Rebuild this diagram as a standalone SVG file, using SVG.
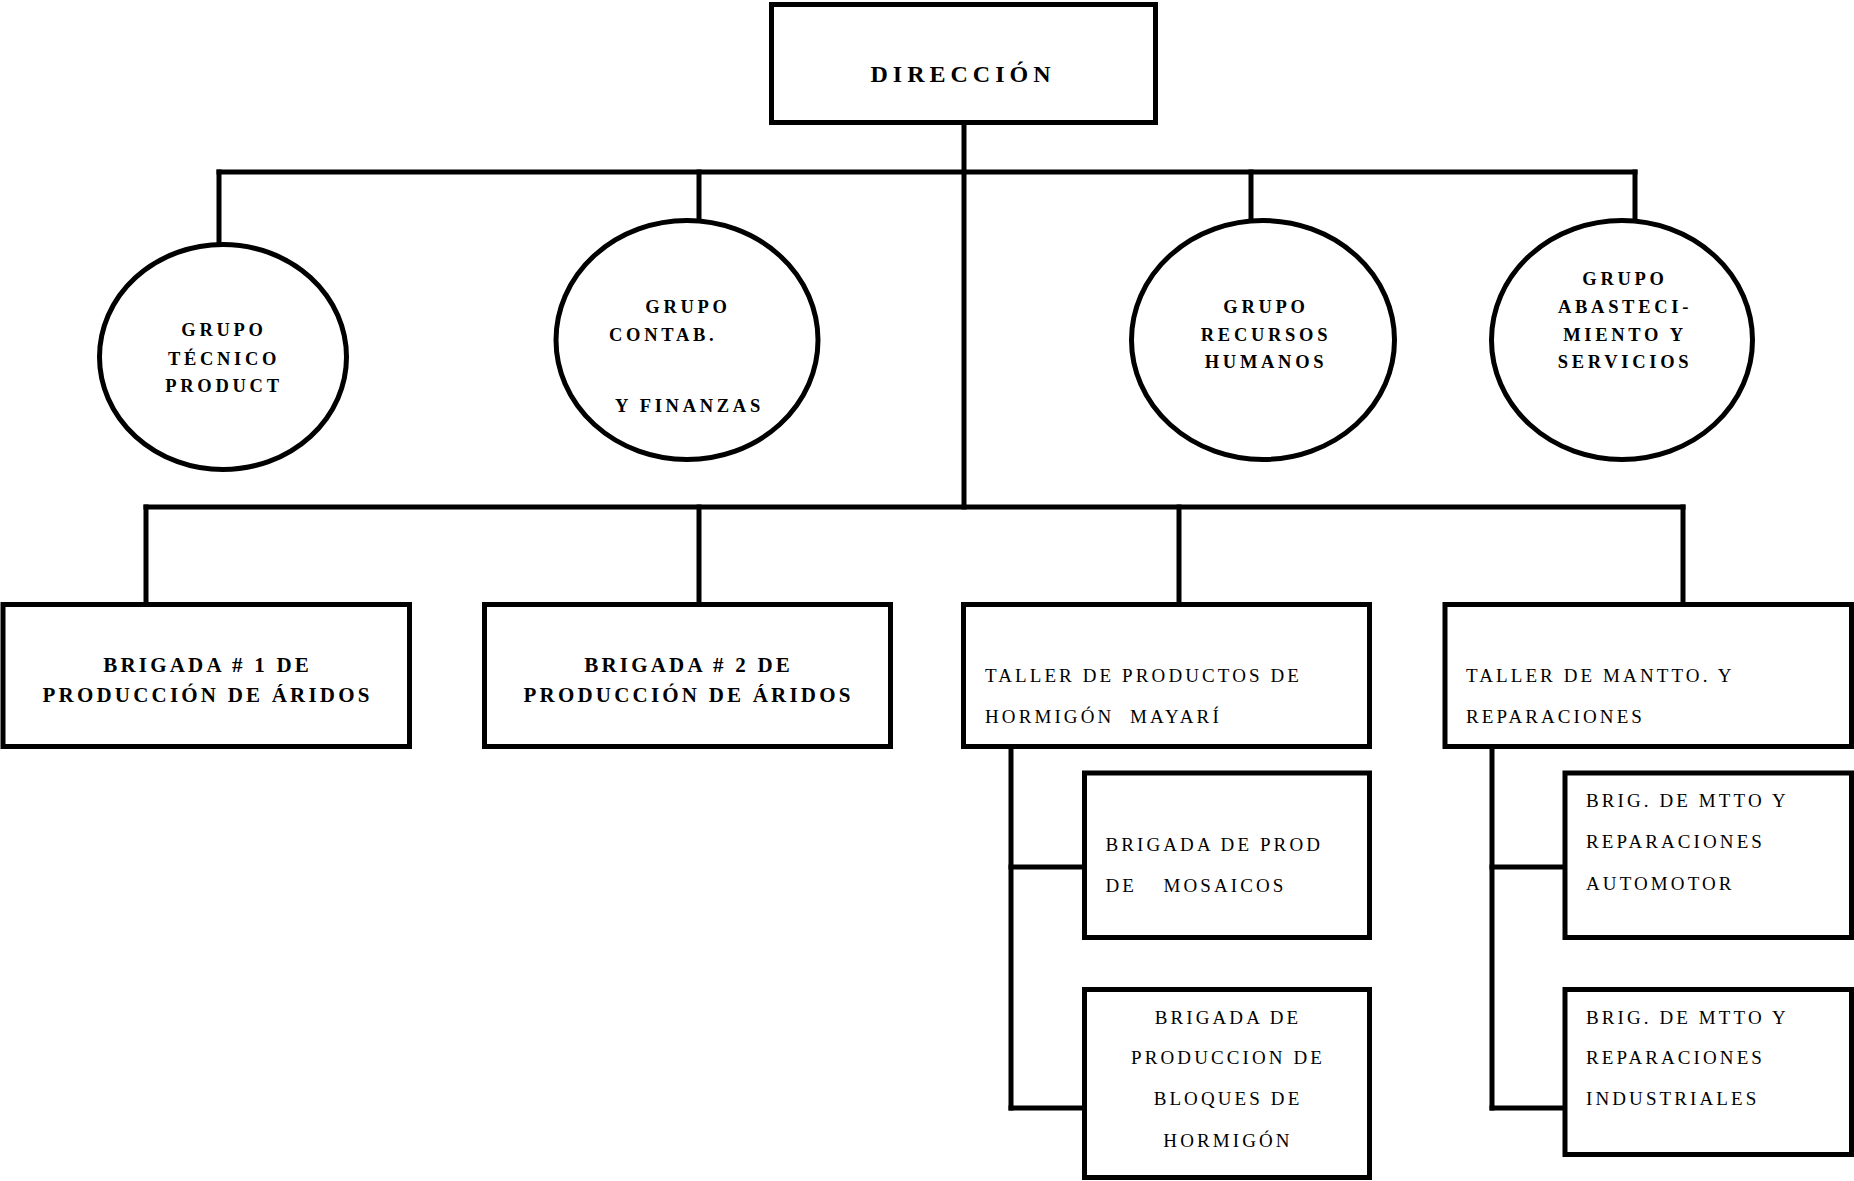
<svg xmlns="http://www.w3.org/2000/svg" width="1854" height="1181" viewBox="0 0 1854 1181">
<style>
.shape{fill:#fff;stroke:#000;stroke-width:5}
.conn line{stroke:#000;stroke-width:5;stroke-linecap:square}
.b{font-family:"Liberation Serif","Times New Roman",serif;font-weight:bold;fill:#000}
.r{font-family:"Liberation Serif","Times New Roman",serif;font-weight:normal;fill:#000;font-size:19px;letter-spacing:3.1px;white-space:pre}
.e{font-size:18.5px;letter-spacing:3.7px}
.bx{font-size:21px;letter-spacing:3.2px}
.m{text-anchor:middle}
</style>
<rect width="1854" height="1181" fill="#fff"/>
<g id="connectors" class="conn">
<line x1="964" y1="125" x2="964" y2="507"/>
<line x1="219" y1="172" x2="1635" y2="172"/>
<line x1="219" y1="172" x2="219" y2="243"/>
<line x1="699" y1="172" x2="699" y2="220"/>
<line x1="1251" y1="172" x2="1251" y2="220"/>
<line x1="1635" y1="172" x2="1635" y2="220"/>
<line x1="146" y1="507" x2="1683" y2="507"/>
<line x1="146" y1="507" x2="146" y2="602"/>
<line x1="699" y1="507" x2="699" y2="602"/>
<line x1="1179" y1="507" x2="1179" y2="602"/>
<line x1="1683" y1="507" x2="1683" y2="602"/>
<line x1="1011" y1="749" x2="1011" y2="1108"/>
<line x1="1011" y1="867" x2="1083" y2="867"/>
<line x1="1011" y1="1108" x2="1083" y2="1108"/>
<line x1="1492" y1="749" x2="1492" y2="1108"/>
<line x1="1492" y1="867" x2="1563" y2="867"/>
<line x1="1492" y1="1108" x2="1563" y2="1108"/>
</g>
<g id="direccion">
<rect class="shape" x="771.5" y="4.5" width="384" height="118"/>
<text class="b m" x="963" y="82" font-size="24" letter-spacing="5">DIRECCIÓN</text>
</g>
<g id="grupo-tecnico">
<ellipse class="shape" cx="223" cy="357" rx="123.5" ry="112.5"/>
<text class="b e m" x="224" y="336">GRUPO</text>
<text class="b e m" x="224" y="365">TÉCNICO</text>
<text class="b e m" x="224" y="392">PRODUCT</text>
</g>
<g id="grupo-contab">
<ellipse class="shape" cx="687" cy="340" rx="131" ry="119.5"/>
<text class="b e m" x="688" y="313">GRUPO</text>
<text class="b e" x="609" y="341">CONTAB.</text>
<text class="b e" x="615" y="412">Y FINANZAS</text>
</g>
<g id="grupo-rrhh">
<ellipse class="shape" cx="1263" cy="340" rx="131.5" ry="119.5"/>
<text class="b e m" x="1266" y="313">GRUPO</text>
<text class="b e m" x="1266" y="341">RECURSOS</text>
<text class="b e m" x="1266" y="368">HUMANOS</text>
</g>
<g id="grupo-abastecimiento">
<ellipse class="shape" cx="1622" cy="340" rx="130.5" ry="119.5"/>
<text class="b e m" x="1625" y="285">GRUPO</text>
<text class="b e m" x="1625" y="313">ABASTECI-</text>
<text class="b e m" x="1625" y="341">MIENTO Y</text>
<text class="b e m" x="1625" y="368">SERVICIOS</text>
</g>
<g id="brigada1">
<rect class="shape" x="3" y="604.5" width="406.5" height="142"/>
<text class="b bx m" x="207.6" y="672">BRIGADA # 1 DE</text>
<text class="b bx m" x="207.6" y="702">PRODUCCIÓN DE ÁRIDOS</text>
</g>
<g id="brigada2">
<rect class="shape" x="484.5" y="604.5" width="406" height="142"/>
<text class="b bx m" x="688.6" y="672">BRIGADA # 2 DE</text>
<text class="b bx m" x="688.6" y="702">PRODUCCIÓN DE ÁRIDOS</text>
</g>
<g id="taller-hormigon">
<rect class="shape" x="963.5" y="604.5" width="406" height="142"/>
<text class="r" x="985" y="682">TALLER DE PRODUCTOS DE</text>
<text class="r" x="985" y="723" xml:space="preserve">HORMIGÓN  MAYARÍ</text>
</g>
<g id="taller-mantto">
<rect class="shape" x="1445" y="604.5" width="406.5" height="142"/>
<text class="r" x="1466" y="682">TALLER DE MANTTO. Y</text>
<text class="r" x="1466" y="723">REPARACIONES</text>
</g>
<g id="brigada-mosaicos">
<rect class="shape" x="1084.5" y="773" width="285" height="164.5"/>
<text class="r" x="1105.5" y="851">BRIGADA DE PROD</text>
<text class="r" x="1105.5" y="892">DE <tspan x="1163.5">MOSAICOS</tspan></text>
</g>
<g id="brigada-bloques">
<rect class="shape" x="1084.5" y="989.5" width="285" height="188"/>
<text class="r m" x="1228" y="1024">BRIGADA DE</text>
<text class="r m" x="1228" y="1064">PRODUCCION DE</text>
<text class="r m" x="1228" y="1105">BLOQUES DE</text>
<text class="r m" x="1228" y="1147">HORMIGÓN</text>
</g>
<g id="brig-automotor">
<rect class="shape" x="1565" y="773" width="286.5" height="164.5"/>
<text class="r" x="1586" y="807">BRIG. DE MTTO Y</text>
<text class="r" x="1586" y="848">REPARACIONES</text>
<text class="r" x="1586" y="890">AUTOMOTOR</text>
</g>
<g id="brig-industriales">
<rect class="shape" x="1565" y="989.5" width="286.5" height="165"/>
<text class="r" x="1586" y="1024">BRIG. DE MTTO Y</text>
<text class="r" x="1586" y="1064">REPARACIONES</text>
<text class="r" x="1586" y="1105">INDUSTRIALES</text>
</g>
</svg>
